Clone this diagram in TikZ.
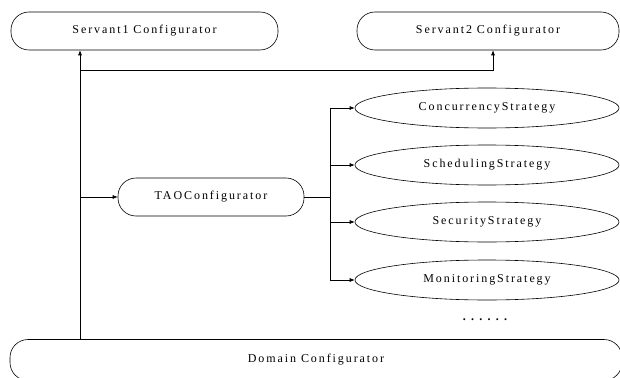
\documentclass[tikz,border=0pt]{standalone}
\usepackage{fontspec}
\setmainfont{Liberation Serif}
\usetikzlibrary{arrows.meta,shapes.geometric}
\tikzset{
  label font/.style={font=\fontsize{12}{14}\selectfont\addfontfeature{LetterSpace=16}},
  capsule/.style={draw, line width=0.6pt, rectangle, rounded corners=18pt,
                  minimum height=38pt, inner sep=0pt, label font},
  strategy/.style={draw, line width=0.6pt, ellipse, minimum width=264pt,
                   minimum height=40pt, inner sep=0pt, label font},
  link/.style={line width=0.6pt},
  feed/.style={link, -{Latex[length=5pt,width=4pt]}}
}
\begin{document}
\begin{tikzpicture}[x=1pt,y=-1pt]
  \useasboundingbox (0,0) rectangle (620,377);

  % configurators
  \node[capsule, minimum width=267pt] (s1)  at (144.5,31) {Servant1 Configurator};
  \node[capsule, minimum width=262pt] (s2)  at (488,31)   {Servant2 Configurator};
  \node[capsule, minimum width=186pt] (tao) at (211,197)  {TAOConfigurator};
  \node[capsule, minimum width=612pt, minimum height=41pt] (dom) at (316,360) {Domain Configurator};

  % strategies
  \node[strategy] (conc)  at (487,108) {ConcurrencyStrategy};
  \node[strategy] (sched) at (487,165) {SchedulingStrategy};
  \node[strategy] (sec)   at (487,222) {SecurityStrategy};
  \node[strategy] (mon)   at (487,280) {MonitoringStrategy};
  \node[font=\fontsize{12}{14}\selectfont\bfseries\addfontfeature{LetterSpace=44}] (more) at (485,320) {......};

  % trunk from the domain configurator
  \coordinate (trunk) at (80,70);
  \coordinate (s2tap) at (493,70);
  \draw[feed] (dom.north -| trunk) -- (s1.south -| trunk);
  \draw[feed] (trunk) -- (s2tap) -- (s2.south -| s2tap);
  \draw[feed] (tao.west -| trunk) -- (tao.west);

  % bus from the TAO configurator to the strategies
  \coordinate (bus) at (330,197);
  \draw[link] (tao.east) -- (bus);
  \draw[link] (conc.west -| bus) -- (mon.west -| bus);
  \foreach \s in {conc,sched,sec,mon}
    \draw[feed] (\s.west -| bus) -- (\s.west);
\end{tikzpicture}
\end{document}
